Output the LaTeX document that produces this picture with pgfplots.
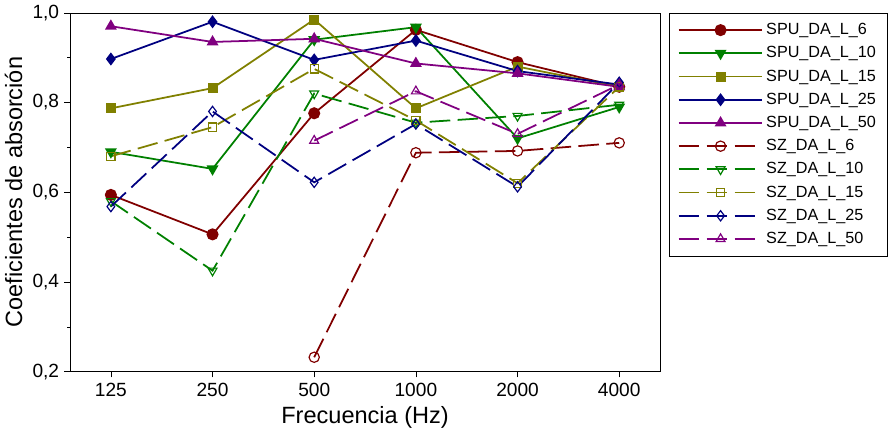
\documentclass[border=0pt]{standalone}
\usepackage{pgfplots}
\pgfplotsset{compat=1.18}
\usepackage{fontspec}
\setmainfont{Liberation Sans}
\definecolor{c1}{RGB}{128,0,0}
\definecolor{c2}{RGB}{0,128,0}
\definecolor{c3}{RGB}{128,128,0}
\definecolor{c4}{RGB}{0,0,128}
\definecolor{c5}{RGB}{128,0,128}
\begin{document}
\begin{tikzpicture}
\begin{axis}[scale only axis, width=401pt, height=244pt,
 xmin=-0.4, xmax=5.4, ymin=0.2, ymax=1.0,
 xtick={0,...,5}, xticklabels={125,250,500,1000,2000,4000},
 ytick={0.2,0.4,...,1.0}, minor ytick={0.3,0.5,0.7,0.9},
 yticklabel style={/pgf/number format/.cd,fixed,fixed zerofill,precision=1,use comma},
 /pgf/number format/assume math mode=true,
 tick style={black}, minor tick length=2pt, major tick length=4pt,
 tick align=outside, xtick pos=bottom, ytick pos=left,
 ticklabel style={font=\fontsize{13}{15}\selectfont},
 xlabel={Frecuencia (Hz)}, ylabel={Coeficientes de absorción},
 label style={font=\fontsize{16}{19}\selectfont},
 legend style={at={(1.015,1)}, anchor=north west, font=\fontsize{11}{13}\selectfont, draw=black, row sep=2.6pt, inner xsep=6pt, inner ysep=5pt},
 legend cell align=left,
 legend image code/.code={\draw[line width=1.2pt,mark repeat=2,mark phase=2,#1] plot coordinates {(0cm,0cm)(1cm,0cm)(2cm,0cm)};},
 every axis plot/.append style={line width=1.2pt, mark size=3.5pt},
 dashp/.style={dash pattern=on 14pt off 5pt}
]
\addplot[c1, mark=*, mark options={fill=c1}] coordinates {(0,0.594)(1,0.506)(2,0.776)(3,0.962)(4,0.89)(5,0.835)};
\addplot[c2, mark=triangle*, mark options={fill=c2, rotate=180}] coordinates {(0,0.69)(1,0.652)(2,0.94)(3,0.968)(4,0.72)(5,0.79)};
\addplot[c3, mark=square*, mark options={fill=c3,scale=0.8}] coordinates {(0,0.787)(1,0.832)(2,0.985)(3,0.787)(4,0.88)(5,0.835)};
\addplot[c4, mark=diamond*, mark options={fill=c4}] coordinates {(0,0.897)(1,0.98)(2,0.895)(3,0.938)(4,0.87)(5,0.84)};
\addplot[c5, mark=triangle*, mark options={fill=c5}] coordinates {(0,0.97)(1,0.935)(2,0.942)(3,0.887)(4,0.865)(5,0.835)};
\addplot[c1, dashp, mark=o, mark options={solid, fill=white, line width=0.8pt}] coordinates {(2,0.232)(3,0.688)(4,0.692)(5,0.71)};
\addplot[c2, dashp, mark=triangle, mark options={solid, fill=white, rotate=180, line width=0.8pt}] coordinates {(0,0.58)(1,0.425)(2,0.82)(3,0.755)(4,0.77)(5,0.795)};
\addplot[c3, dashp, mark=square, mark options={solid, fill=white,scale=0.8, line width=0.8pt}] coordinates {(0,0.68)(1,0.745)(2,0.875)(3,0.76)(4,0.62)(5,0.835)};
\addplot[c4, dashp, mark=diamond, mark options={solid, fill=white, line width=0.8pt}] coordinates {(0,0.568)(1,0.78)(2,0.622)(3,0.752)(4,0.612)(5,0.845)};
\addplot[c5, dashp, mark=triangle, mark options={solid, fill=white, line width=0.8pt}] coordinates {(2,0.715)(3,0.825)(4,0.73)(5,0.84)};
\legend{SPU\_DA\_L\_6,SPU\_DA\_L\_10,SPU\_DA\_L\_15,SPU\_DA\_L\_25,SPU\_DA\_L\_50,SZ\_DA\_L\_6,SZ\_DA\_L\_10,SZ\_DA\_L\_15,SZ\_DA\_L\_25,SZ\_DA\_L\_50}
\end{axis}
\end{tikzpicture}
\end{document}
